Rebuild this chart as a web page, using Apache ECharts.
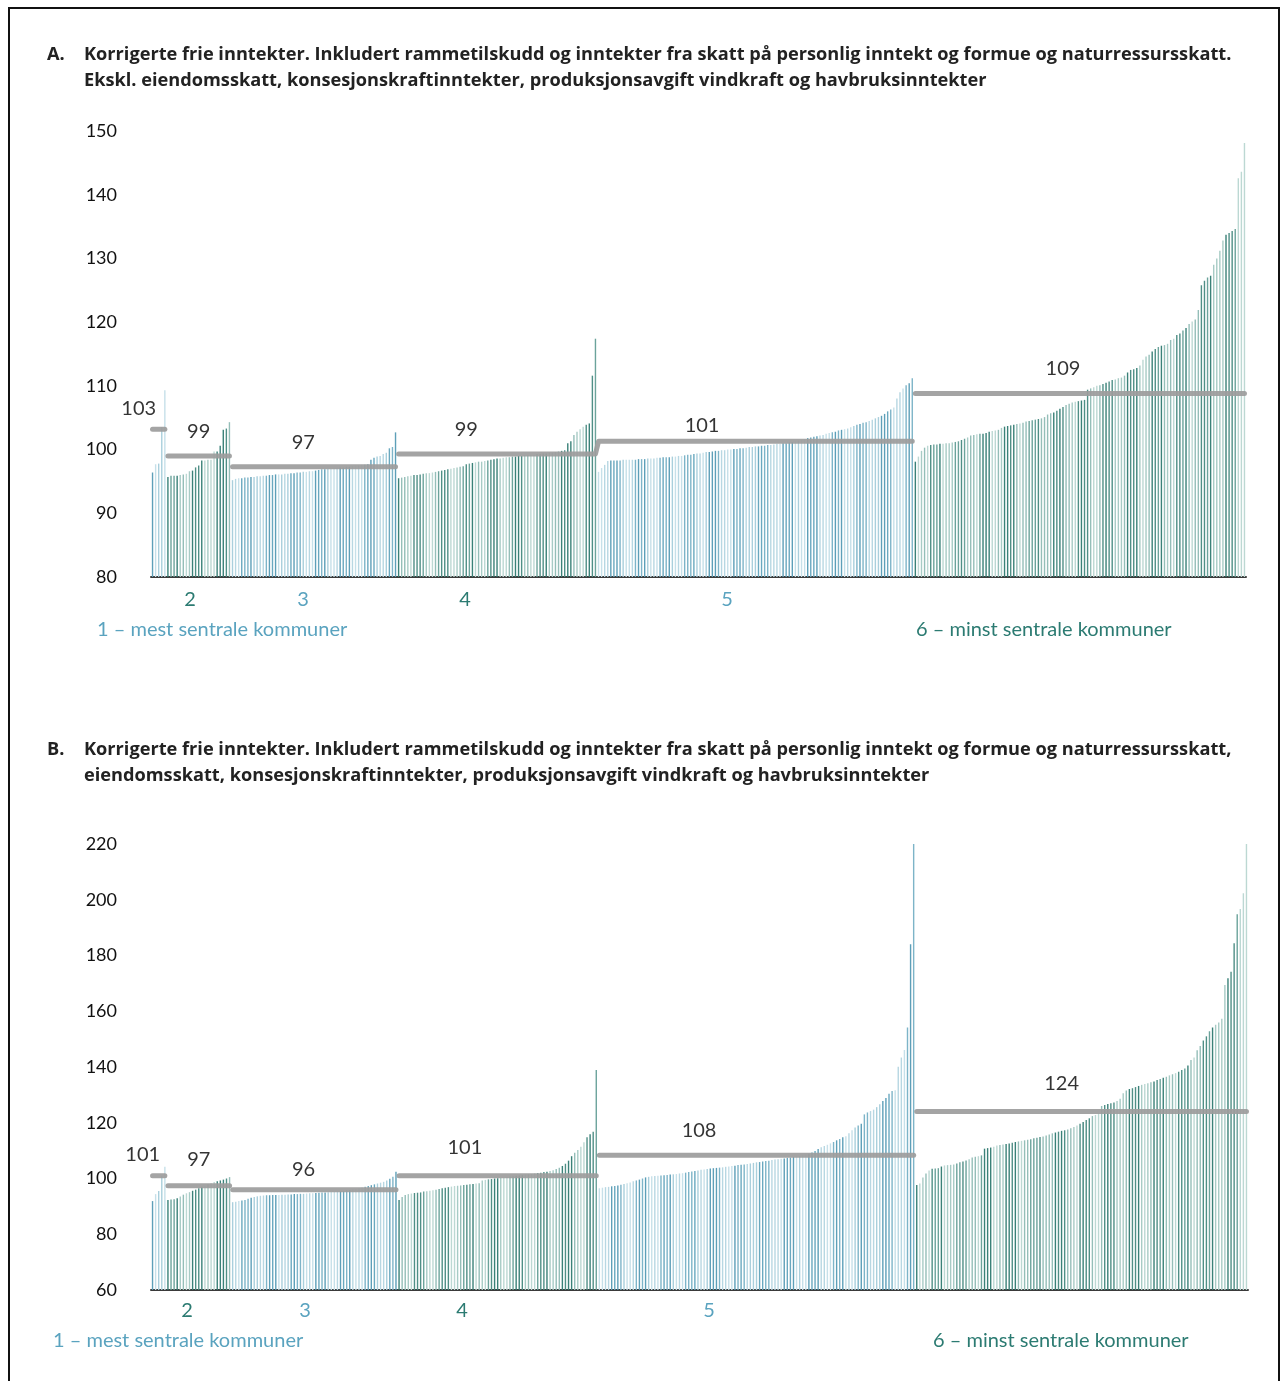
<!DOCTYPE html>
<html><head><meta charset="utf-8">
<script src="https://cdn.jsdelivr.net/npm/echarts@6/dist/echarts.min.js"></script>
<style>
html,body{margin:0;padding:0;background:#fff;}
#frame{position:absolute;left:8px;top:7px;width:1272px;height:1400px;border-left:2px solid #111;border-top:2px solid #111;border-right:2px solid #111;box-sizing:border-box;pointer-events:none;}
#chart{position:absolute;left:0;top:0;width:1282px;height:1381px;}
</style></head>
<body>
<div id="chart"></div>
<div id="frame"></div>
<script>
// ---------- DATA ----------
const groupNames = ['1', '2', '3', '4', '5', '6'];
const groupSizes = [5, 21, 54, 65, 103, 108];

// Panel A values (sorted within each centrality group)
const a1 = [96.4, 97.7, 97.8, 103.5, 109.3];
const a2 = [95.7, 95.9, 95.9, 95.9, 96.0, 96.1, 96.2, 96.6, 96.7, 97.2, 97.5, 98.3, 98.3, 98.4, 98.4, 99.7, 99.7, 100.6, 103.1, 103.3, 104.3];
const a3 = [95.2, 95.4, 95.5, 95.5, 95.6, 95.6, 95.7, 95.7, 95.8, 95.8, 95.9, 95.9, 96.0, 96.0, 96.1, 96.1, 96.1, 96.2, 96.2, 96.3, 96.3, 96.4, 96.4, 96.5, 96.5, 96.6, 96.6, 96.7, 96.8, 96.9, 96.9, 97.0, 97.0, 97.1, 97.1, 97.2, 97.2, 97.3, 97.3, 97.4, 97.5, 97.5, 97.6, 97.6, 97.7, 98.4, 98.7, 98.9, 99.0, 99.3, 99.5, 100.2, 100.4, 102.7];
const a4 = [95.5, 95.6, 95.7, 95.8, 95.9, 96.0, 96.0, 96.1, 96.2, 96.3, 96.3, 96.4, 96.5, 96.6, 96.7, 96.8, 96.9, 97.0, 97.1, 97.2, 97.3, 97.4, 97.7, 97.8, 97.9, 98.0, 98.1, 98.1, 98.2, 98.3, 98.4, 98.5, 98.6, 98.6, 98.7, 98.8, 98.8, 98.9, 98.9, 99.0, 99.0, 99.1, 99.1, 99.2, 99.2, 99.3, 99.3, 99.4, 99.4, 99.5, 99.5, 99.6, 99.7, 99.8, 99.9, 101.0, 101.3, 102.3, 102.8, 103.2, 103.6, 103.9, 104.1, 111.6, 117.4];
const a5 = [96.5, 97.1, 97.6, 98.2, 98.3, 98.3, 98.3, 98.3, 98.4, 98.4, 98.4, 98.4, 98.4, 98.5, 98.5, 98.5, 98.6, 98.6, 98.6, 98.7, 98.7, 98.8, 98.8, 98.8, 98.9, 98.9, 99.0, 99.0, 99.1, 99.2, 99.2, 99.3, 99.4, 99.4, 99.5, 99.6, 99.6, 99.7, 99.8, 99.8, 99.9, 99.9, 100.0, 100.0, 100.1, 100.1, 100.2, 100.2, 100.3, 100.4, 100.4, 100.5, 100.5, 100.6, 100.6, 100.7, 100.7, 100.8, 100.9, 100.9, 101.0, 101.0, 101.1, 101.2, 101.3, 101.4, 101.5, 101.6, 101.8, 101.9, 102.0, 102.1, 102.2, 102.3, 102.5, 102.6, 102.7, 102.8, 103.0, 103.1, 103.2, 103.3, 103.5, 103.7, 103.9, 104.0, 104.2, 104.3, 104.5, 104.7, 104.9, 105.1, 105.3, 105.6, 106.0, 106.3, 106.6, 108.0, 109.0, 109.6, 110.1, 110.4, 111.2];
const a6 = [98.1, 98.9, 99.8, 100.3, 100.6, 100.7, 100.8, 100.8, 100.9, 100.9, 101.0, 101.0, 101.1, 101.2, 101.3, 101.5, 101.7, 101.9, 102.2, 102.3, 102.4, 102.5, 102.5, 102.6, 102.8, 102.9, 103.0, 103.1, 103.4, 103.6, 103.7, 103.8, 103.9, 104.0, 104.1, 104.2, 104.4, 104.5, 104.6, 104.7, 104.8, 104.9, 105.1, 105.5, 105.7, 105.8, 106.1, 106.4, 106.7, 107.0, 107.2, 107.4, 107.5, 107.6, 107.7, 107.8, 109.4, 109.6, 109.8, 110.0, 110.1, 110.3, 110.5, 110.7, 110.9, 111.0, 111.2, 111.3, 111.6, 112.1, 112.5, 112.6, 112.8, 113.2, 114.1, 114.6, 114.9, 115.4, 115.8, 116.1, 116.3, 116.4, 116.6, 117.2, 117.4, 118.0, 118.2, 118.7, 119.1, 119.7, 120.1, 120.4, 121.9, 125.8, 126.5, 127.0, 127.3, 129.0, 130.0, 131.2, 132.8, 133.7, 134.0, 134.3, 134.6, 142.6, 143.6, 148.1];
const avgA = [103.2, 99.0, 97.3, 99.3, 101.3, 108.8];

// Panel B values
const b1 = [91.9, 94.4, 95.5, 101.0, 104.2];
const b2 = [92.3, 92.5, 92.6, 92.9, 93.5, 94.2, 94.7, 95.1, 95.6, 96.0, 96.5, 97.0, 97.4, 97.9, 98.3, 98.7, 99.0, 99.3, 99.6, 100.0, 100.5];
const b3 = [91.5, 91.7, 91.9, 92.1, 92.3, 92.7, 93.1, 93.4, 93.6, 93.8, 93.9, 94.0, 94.0, 94.1, 94.1, 94.1, 94.2, 94.2, 94.3, 94.3, 94.4, 94.4, 94.5, 94.5, 94.6, 94.7, 94.7, 94.8, 94.9, 95.0, 95.0, 95.1, 95.2, 95.3, 95.4, 95.5, 95.6, 95.8, 95.9, 96.1, 96.3, 96.5, 96.8, 97.0, 97.3, 97.6, 97.9, 98.2, 98.5, 98.8, 99.3, 99.9, 100.6, 102.4];
const b4 = [92.3, 93.4, 94.1, 94.4, 94.6, 94.8, 94.9, 95.0, 95.3, 95.4, 95.6, 95.8, 96.0, 96.2, 96.5, 96.7, 96.9, 97.1, 97.3, 97.4, 97.5, 97.7, 97.8, 97.9, 98.0, 98.2, 98.3, 99.3, 99.5, 99.7, 99.8, 100.0, 100.1, 100.2, 100.4, 100.5, 100.7, 100.8, 101.0, 101.1, 101.2, 101.4, 101.5, 101.6, 101.8, 102.0, 102.1, 102.3, 102.4, 102.7, 103.0, 103.4, 103.9, 104.5, 105.3, 106.4, 108.0, 109.2, 110.2, 111.4, 113.0, 114.8, 115.9, 116.8, 138.9];
const b5 = [96.5, 96.7, 96.9, 97.0, 97.2, 97.3, 97.5, 97.8, 98.0, 98.3, 98.6, 99.0, 99.3, 99.6, 100.0, 100.4, 100.6, 100.8, 100.9, 101.0, 101.1, 101.2, 101.3, 101.4, 101.5, 101.6, 101.8, 101.9, 102.1, 102.3, 102.5, 102.7, 102.9, 103.1, 103.2, 103.4, 103.6, 103.7, 103.8, 103.9, 104.0, 104.2, 104.3, 104.5, 104.6, 104.8, 104.9, 105.0, 105.2, 105.4, 105.6, 105.8, 105.9, 106.1, 106.3, 106.4, 106.6, 106.8, 106.9, 107.1, 107.2, 107.4, 107.5, 107.7, 107.8, 108.0, 108.3, 108.6, 108.9, 109.3, 109.9, 110.6, 111.2, 111.7, 112.1, 112.6, 113.1, 113.7, 114.2, 114.8, 115.2, 116.2, 117.3, 118.3, 119.0, 119.6, 123.0, 123.7, 124.2, 124.7, 125.6, 126.6, 127.8, 128.9, 130.4, 131.4, 131.7, 140.1, 143.4, 146.1, 154.2, 184.0, 220];
const b6 = [97.7, 98.2, 100.4, 101.8, 102.9, 103.5, 103.6, 103.7, 104.3, 104.7, 104.8, 104.9, 105.0, 105.4, 105.8, 106.1, 106.5, 106.9, 107.5, 107.8, 108.0, 108.3, 110.7, 110.9, 111.1, 111.4, 111.8, 112.0, 112.2, 112.4, 112.6, 112.8, 113.1, 113.3, 113.5, 113.7, 113.9, 114.1, 114.4, 114.6, 114.9, 115.1, 115.4, 115.8, 116.2, 116.5, 116.8, 117.1, 117.3, 117.6, 118.0, 118.5, 119.0, 119.6, 120.3, 121.0, 121.6, 122.4, 122.8, 123.4, 126.0, 126.4, 126.7, 127.0, 127.3, 127.8, 128.6, 130.6, 131.6, 132.1, 132.4, 132.8, 133.2, 133.6, 133.9, 134.2, 134.5, 134.8, 135.3, 135.7, 136.1, 136.5, 137.0, 137.4, 137.8, 138.3, 138.9, 139.5, 140.5, 142.5, 143.4, 146.0, 147.5, 149.5, 151.0, 152.8, 154.2, 155.2, 156.0, 157.3, 169.4, 171.8, 174.2, 184.4, 194.8, 196.7, 202.3, 220];
const avgB = [101.0, 97.4, 96.0, 101.0, 108.3, 124.0];

const yTicksA = {min: 80, max: 150, interval: 10};
const yTicksB = {min: 60, max: 220, interval: 20};

const titleA = ['Korrigerte frie inntekter. Inkludert rammetilskudd og inntekter fra skatt på personlig inntekt og formue og naturressursskatt.',
                'Ekskl. eiendomsskatt, konsesjonskraftinntekter, produksjonsavgift vindkraft og havbruksinntekter'];
const titleB = ['Korrigerte frie inntekter. Inkludert rammetilskudd og inntekter fra skatt på personlig inntekt og formue og naturressursskatt,',
                'eiendomsskatt, konsesjonskraftinntekter, produksjonsavgift vindkraft og havbruksinntekter'];
const firstLabel = '1 – mest sentrale kommuner';
const lastLabel = '6 – minst sentrale kommuner';

// ---------- BUILD ----------
const valuesA = [].concat(a1, a2, a3, a4, a5, a6);
const valuesB = [].concat(b1, b2, b3, b4, b5, b6);
const N = valuesA.length;
const categories = valuesA.map((_, i) => String(i + 1));
const groupOf = [];
const groupStart = [];
{ let s = 0; groupSizes.forEach((n, g) => { groupStart.push(s); for (let k = 0; k < n; k++) groupOf.push(g); s += n; }); }

const BLUE_TXT = '#5aa3bf', GREEN_TXT = '#2c7b72';
const bluePal = ['#5d9fb8', '#a9cfdc', '#7db4c8', '#c6e0e9', '#69a8bf', '#b7d7e2'];
const greenPal = ['#3a8178', '#94beb8', '#6ba39b', '#bcd8d3', '#4f8f86', '#a7cbc5'];
function barColor(i) {
  const g = groupOf[i];
  const pal = (g % 2 === 0) ? bluePal : greenPal;
  const h = ((i * 37) ^ (i * 11 >> 2)) % pal.length;
  return pal[Math.abs(h)];
}

// label layout (category index of label centre, pixel nudges)
const labelIdx = [2, 15, 49, 102, 178, 296];
const labelNudgeA = [[-20, 4], [0, 0], [0, 0], [0, 0], [2, 9], [0, 0]];
const labelNudgeB = [[-16, 3], [0, -2], [0, 4], [-2, -4], [-2, 0], [-3, -4]];
const FONT = 'Lato';
const TFONT = 'Open Sans';

function avgLineSeries(avgs, axisIdx, joins) {
  const out = [];
  let g = 0;
  while (g < groupSizes.length) {
    const data = new Array(N).fill(null);
    let gg = g;
    while (true) {
      for (let k = 0; k < groupSizes[gg]; k++) data[groupStart[gg] + k] = avgs[gg];
      if (joins.includes(gg) && gg + 1 < groupSizes.length) gg++; else break;
    }
    out.push({
      type: 'line', xAxisIndex: axisIdx, yAxisIndex: axisIdx, data: data,
      symbol: 'none', connectNulls: false, silent: true, z: 5,
      lineStyle: {color: '#9c9c9c', width: 5, cap: 'round', join: 'round', opacity: 0.92}
    });
    g = gg + 1;
  }
  return out;
}
function avgLabelSeries(avgs, axisIdx, nudge) {
  return {
    type: 'scatter', xAxisIndex: axisIdx, yAxisIndex: axisIdx, symbol: 'circle', symbolSize: 1, z: 6, silent: true,
    itemStyle: {color: 'rgba(0,0,0,0)'},
    data: avgs.map((v, g) => ({
      value: [labelIdx[g], v],
      label: {show: true, position: 'top', distance: 14, offset: nudge[g],
        formatter: String(Math.round(v)), color: '#000', fontSize: 20, fontFamily: FONT,
        textBorderWidth: 0}
    }))
  };
}
function barSeries(vals, axisIdx) {
  return {
    type: 'bar', xAxisIndex: axisIdx, yAxisIndex: axisIdx, barWidth: 1.4, z: 2, silent: true,
    data: vals.map((v, i) => ({value: v, itemStyle: {color: barColor(i)}}))
  };
}
function xAxis(gridIdx) {
  return {type: 'category', gridIndex: gridIdx, data: categories, boundaryGap: true,
    axisLine: {show: true, lineStyle: {color: '#3a3a3a', width: 2}}, axisTick: {show: false}, axisLabel: {show: false}};
}
function yAxis(gridIdx, t) {
  return {type: 'value', gridIndex: gridIdx, min: t.min, max: t.max, interval: t.interval,
    axisLine: {show: false}, axisTick: {show: false}, splitLine: {show: false},
    axisLabel: {color: '#111', fontSize: 18, fontFamily: FONT, margin: 34}};
}

function posText(x, y, text, color, size, weight, align, family) {
  return {type: 'text', x: x, y: y, silent: true,
    style: {text: text, fill: color, font: (weight || 'normal') + ' ' + size + 'px ' + (family || FONT), textAlign: align || 'left', textVerticalAlign: 'middle'}};
}

const TS = 18.2;
const graphics = [
  posText(47, 55, 'A.', '#222', TS, 'bold', 'left', TFONT),
  posText(84, 55, titleA[0], '#222', TS, 'bold', 'left', TFONT),
  posText(84, 81, titleA[1], '#222', TS, 'bold', 'left', TFONT),
  posText(190, 600, groupNames[1], GREEN_TXT, 20, 'normal', 'center'),
  posText(303, 600, groupNames[2], BLUE_TXT, 20, 'normal', 'center'),
  posText(465, 600, groupNames[3], GREEN_TXT, 20, 'normal', 'center'),
  posText(727, 600, groupNames[4], BLUE_TXT, 20, 'normal', 'center'),
  posText(97, 630, firstLabel, BLUE_TXT, 20),
  posText(916, 630, lastLabel, GREEN_TXT, 20),

  posText(47, 750, 'B.', '#222', TS, 'bold', 'left', TFONT),
  posText(84, 750, titleB[0], '#222', TS, 'bold', 'left', TFONT),
  posText(84, 776, titleB[1], '#222', TS, 'bold', 'left', TFONT),
  posText(187, 1311, groupNames[1], GREEN_TXT, 20, 'normal', 'center'),
  posText(305, 1311, groupNames[2], BLUE_TXT, 20, 'normal', 'center'),
  posText(462, 1311, groupNames[3], GREEN_TXT, 20, 'normal', 'center'),
  posText(709, 1311, groupNames[4], BLUE_TXT, 20, 'normal', 'center'),
  posText(53, 1341, firstLabel, BLUE_TXT, 20),
  posText(933, 1341, lastLabel, GREEN_TXT, 20)
];

const chart = echarts.init(document.getElementById('chart'), null, {renderer: 'canvas', width: 1282, height: 1381});
chart.setOption({
  animation: false,
  backgroundColor: '#fff',
  grid: [
    {left: 151, top: 131, width: 1095, height: 446},
    {left: 151, top: 844, width: 1097, height: 446}
  ],
  xAxis: [xAxis(0), xAxis(1)],
  yAxis: [yAxis(0, yTicksA), yAxis(1, yTicksB)],
  series: [].concat(
    [barSeries(valuesA, 0)],
    avgLineSeries(avgA, 0, [3]),
    [avgLabelSeries(avgA, 0, labelNudgeA)],
    [barSeries(valuesB, 1)],
    avgLineSeries(avgB, 1, []),
    [avgLabelSeries(avgB, 1, labelNudgeB)]
  ),
  graphic: graphics
});
</script>
</body></html>
